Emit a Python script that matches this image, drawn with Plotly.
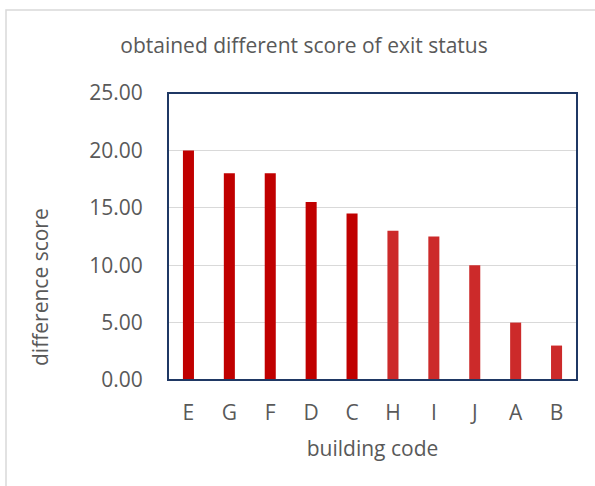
import plotly.graph_objects as go

codes = ["E", "G", "F", "D", "C", "H", "I", "J", "A", "B"]
scores = [20.0, 18.0, 18.0, 15.5, 14.5, 13.0, 12.5, 10.0, 5.0, 3.0]
y_ticks = [0, 5, 10, 15, 20, 25]
y_tick_labels = ["0.00", "5.00", "10.00", "15.00", "20.00", "25.00"]
bar_colors = ["#C00000"] * 5 + ["#CC2A2A"] * 5

W, H = 595, 486
L, R, T, B = 168, 18, 93, 106
pw, ph = W - L - R, H - T - B

def px_x(x):
    return (x - L) / pw

def px_y(y):
    return (H - B - y) / ph

font = "Open Sans, Lato, sans-serif"
grey = "#595959"
fs = 21

fig = go.Figure(go.Bar(x=codes, y=scores, marker=dict(color=bar_colors, line=dict(width=0)), width=0.27))

fig.update_layout(
    width=W, height=H,
    margin=dict(l=L, r=R, t=T, b=B, autoexpand=False),
    paper_bgcolor="white", plot_bgcolor="white",
    showlegend=False,
    font=dict(family=font, color=grey),
    title=dict(text="obtained different score of exit status", xref="container", x=304 / W, xanchor="center",
               yref="container", y=1 - 46 / H, yanchor="middle", font=dict(size=21, color=grey)),
    xaxis=dict(showline=False, ticks="outside", ticklen=14, tickcolor="rgba(0,0,0,0)",
               tickfont=dict(size=fs, color=grey),
               title=dict(text="building code", font=dict(size=fs, color=grey), standoff=16),
               range=[-0.5, 9.5]),
    yaxis=dict(range=[0, 25], tickvals=y_ticks, ticktext=y_tick_labels, showline=False,
               showgrid=True, gridcolor="#D9D9D9", gridwidth=1, zeroline=False,
               ticks="outside", ticklen=20, tickcolor="rgba(0,0,0,0)",
               tickfont=dict(size=fs, color=grey)),
    annotations=[
        dict(text="difference score", xref="paper", yref="paper", x=px_x(40), y=px_y(287),
             xanchor="center", yanchor="middle", textangle=-90, showarrow=False,
             font=dict(size=fs, color=grey)),
    ],
    shapes=[
        dict(type="rect", xref="paper", yref="paper", x0=0, x1=1, y0=0, y1=1,
             line=dict(color="#1F3864", width=2), layer="above"),
        dict(type="rect", xref="paper", yref="paper", x0=px_x(6), x1=px_x(640), y0=px_y(540), y1=px_y(10),
             line=dict(color="#D9D9D9", width=1.5), layer="below"),
    ],
)

fig.write_html("out.html", config={"displayModeBar": False},
               post_script="document.body.style.margin='0';document.body.style.overflow='hidden';")
